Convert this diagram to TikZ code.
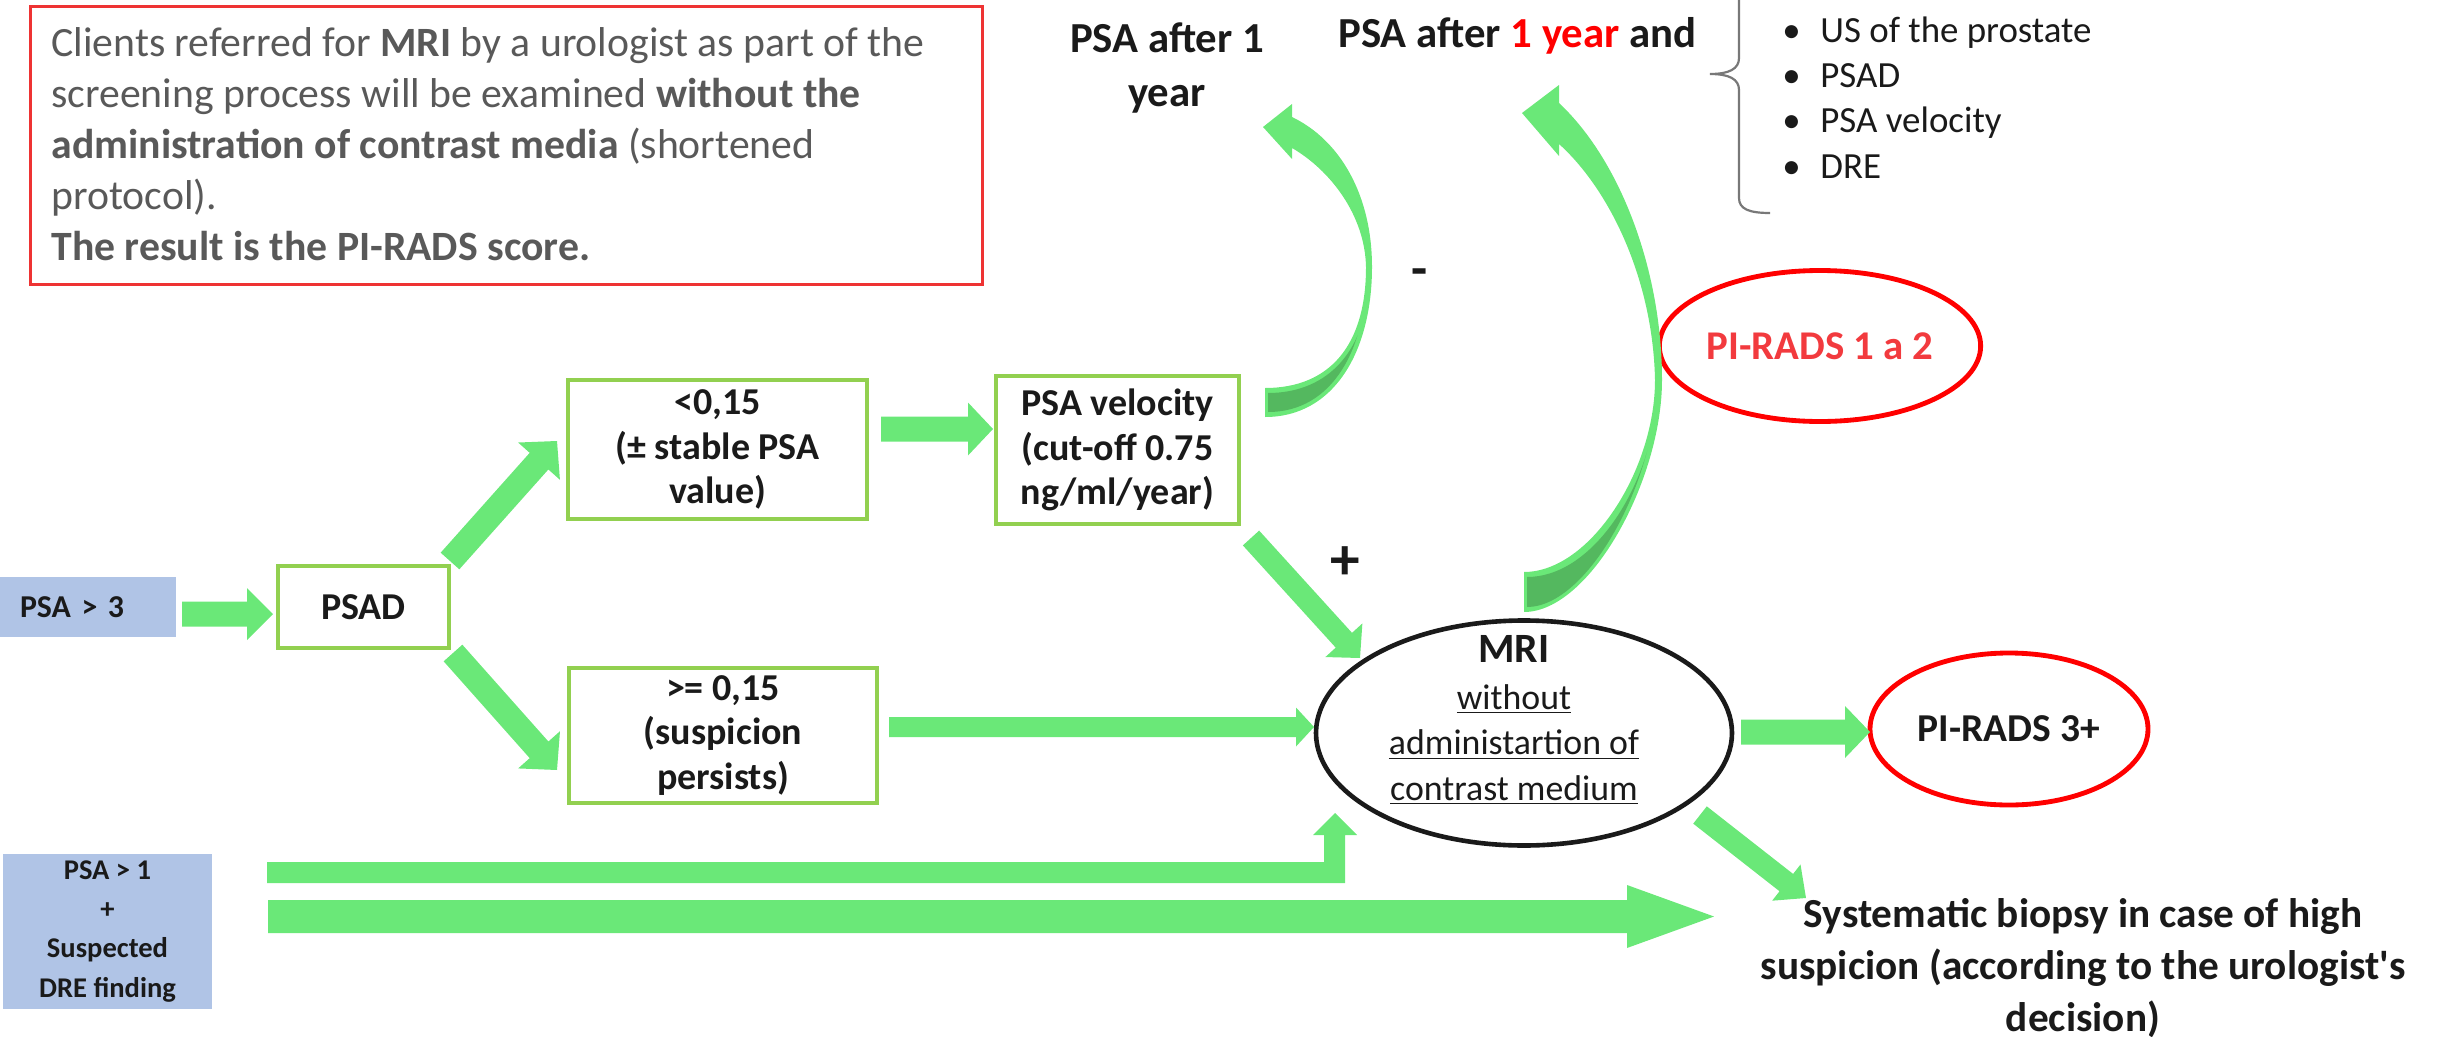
\documentclass[tikz,border=0pt]{standalone}
\usepackage{fontspec}
\setmainfont{Carlito}
\usetikzlibrary{calc,shapes.geometric}

\definecolor{arrowgreen}{RGB}{106,232,120}
\definecolor{arrowdark}{RGB}{84,184,95}
\definecolor{boxgreen}{RGB}{146,208,80}
\definecolor{boxblue}{RGB}{176,196,230}
\definecolor{notered}{RGB}{238,51,51}
\definecolor{notegray}{RGB}{89,89,89}
\definecolor{inkblack}{RGB}{26,26,26}
\definecolor{piradsred}{RGB}{242,58,62}
\definecolor{bracegray}{RGB}{120,120,120}

% one drawing unit
\newcommand\upx{0.016cm}
\newcommand\fsz[2]{\fontsize{#1}{#2}\selectfont}

% straight block arrow: start, tip, shaft half width, head half width, head length
\newcommand\blockarrow[5]{%
  \coordinate (ba-neck) at ($(#2)!#5!(#1)$);
  \fill[arrowgreen] ($(#1)!#3!90:(#2)$) -- ($(ba-neck)!#3!90:(#2)$)
    -- ($(ba-neck)!#4!90:(#2)$) -- (#2) -- ($(ba-neck)!#4!-90:(#2)$)
    -- ($(ba-neck)!#3!-90:(#2)$) -- ($(#1)!#3!-90:(#2)$) -- cycle;
}

\tikzset{
  stagebox/.style={draw=boxgreen, line width=1.8pt, fill=white, text=inkblack,
    align=center, inner sep=0pt, font=\bfseries\fsz{17.3}{20.4}},
  inbox/.style={fill=boxblue, text=inkblack, inner sep=0pt},
  resultoval/.style={ellipse, draw=red, line width=2.2pt, inner sep=0pt},
  plaintext/.style={inner sep=0pt, text=inkblack},
}

\begin{document}
\begin{tikzpicture}[x=0.016cm,y=-0.016cm]
\useasboundingbox (0,0) rectangle (2453,1037);

% ---- explanatory note ----
\node[draw=notered, line width=1.4pt, minimum width=952*\upx, minimum height=278*\upx,
      inner sep=0pt, anchor=north west] (note) at (29,5) {};
\node[plaintext, text=notegray, font=\fsz{19}{23.2}, align=left, anchor=north west]
  (notetext) at (51,27)
  {Clients referred for \textbf{MRI} by a urologist as part of the\\
   screening process will be examined \textbf{without the}\\
   \textbf{administration of contrast media} (shortened\\
   protocol).\\
   \textbf{The result is the PI-RADS score.}};

% ---- follow-up labels ----
\node[plaintext, font=\bfseries\fsz{19.5}{24.5}, align=center, anchor=base] (after1) at (1167,106)
  {PSA after 1\\year};
\node[plaintext, font=\bfseries\fsz{19.5}{22}, anchor=base west] (after1and) at (1338,47)
  {PSA after \textcolor{red}{1 year} and};

% brace and list of examinations
\draw[bracegray, line width=1pt] (1770,-68) .. controls (1749,-68) and (1739,-62) .. (1739,-48)
  -- (1739,58) .. controls (1739,69) and (1729,74) .. (1710,74)
  .. controls (1729,74) and (1739,79) .. (1739,90) -- (1739,198)
  .. controls (1739,209) and (1749,213) .. (1770,213);
\node[plaintext, font=\fsz{16.8}{20.5}, align=left, anchor=base west] (checks) at (1782,178)
  {\makebox[0.608cm][l]{•}US of the prostate\\
   \makebox[0.608cm][l]{•}PSAD\\
   \makebox[0.608cm][l]{•}PSA velocity\\
   \makebox[0.608cm][l]{•}DRE};

% ---- entry boxes ----
\node[inbox, minimum width=176*\upx, minimum height=60*\upx, text width=2.176cm,
      inner xsep=0.32cm, align=left, font=\bfseries\fsz{14.5}{17}] (psa3) at (88,607) {PSA > 3};
\node[inbox, minimum width=209*\upx, minimum height=155*\upx, align=center,
      font=\bfseries\fsz{13}{17.8}] (psa1) at (107.5,931.5)
  {PSA > 1\\+\\Suspected\\DRE finding};

% ---- decision boxes ----
\node[stagebox, minimum width=171*\upx, minimum height=82*\upx] (psad) at (363.5,607) {PSAD};
\node[stagebox, minimum width=299*\upx, minimum height=139*\upx] (low) at (717.5,449.5)
  {<0,15\\(± stable PSA\\value)};
\node[stagebox, minimum width=308*\upx, minimum height=135*\upx] (high) at (723,735.5)
  {>= 0,15\\(suspicion\\persists)};
\node[stagebox, minimum width=243*\upx, minimum height=148*\upx] (vel) at (1117.5,450)
  {PSA velocity\\(cut-off 0.75\\ng/ml/year)};

% ---- MRI and results ----
\node[ellipse, draw=inkblack, line width=2.1pt, fill=white, minimum width=416*\upx,
      minimum height=225*\upx, inner sep=0pt] (mri) at (1524,733) {};
\node[plaintext, align=center, font=\fsz{16.3}{20.6}, anchor=base] (mritext) at (1514,800)
  {{\bfseries\fsz{19}{22}MRI}\\[1pt]\underline{without}\\\underline{administartion of}\\\underline{contrast medium}};
\node[resultoval, minimum width=278*\upx, minimum height=152*\upx,
      font=\bfseries\fsz{18}{22}, text=inkblack] (pirads3) at (2009,729) {PI-RADS 3+};
\node[resultoval, minimum width=310*\upx, minimum height=151*\upx,
      font=\bfseries\fsz{18.6}{22}, text=piradsred] (pirads12) at (1820,346) {PI-RADS 1 a 2};
\node[plaintext, font=\bfseries\fsz{18.8}{23.5}, align=center, anchor=base] (biopsy) at (2083,1031)
  {Systematic biopsy in case of high\\suspicion (according to the urologist\textquotesingle s\\decision)};

% signs on the velocity branches
\node[plaintext, font=\bfseries\fsz{27}{30}] (plus) at (1345,563) {+};
\node[plaintext, font=\bfseries\fsz{24}{28}, anchor=base] (minus) at (1420,286) {-};

% ---- straight block arrows ----
\coordinate (a1s) at (182,614);   \coordinate (a1e) at (273,614);
\coordinate (a2s) at (450,561);   \coordinate (a2e) at (557,441);
\coordinate (a3s) at (453,653);   \coordinate (a3e) at (557,770);
\coordinate (a4s) at (881,429);   \coordinate (a4e) at (993,429);
\coordinate (a5s) at (1251,538);  \coordinate (a5e) at (1360,658);
\coordinate (a6s) at (889,727);   \coordinate (a6e) at (1314,727);
\coordinate (a7s) at (1741,732);  \coordinate (a7e) at (1870,732);
\coordinate (a8s) at (1700,815);  \coordinate (a8e) at (1806,898);
\coordinate (a10s) at (268,916.5); \coordinate (a10e) at (1714,916.5);
\blockarrow{a1s}{a1e}{12.5*\upx}{26*\upx}{26*\upx}
\blockarrow{a2s}{a2e}{12.5*\upx}{28*\upx}{27*\upx}
\blockarrow{a3s}{a3e}{12.5*\upx}{28*\upx}{27*\upx}
\blockarrow{a4s}{a4e}{12.5*\upx}{26.5*\upx}{25*\upx}
\blockarrow{a5s}{a5e}{11*\upx}{25*\upx}{24*\upx}
\blockarrow{a6s}{a6e}{10*\upx}{19.5*\upx}{18*\upx}
\blockarrow{a7s}{a7e}{12.5*\upx}{26*\upx}{25*\upx}
\blockarrow{a8s}{a8e}{11*\upx}{23*\upx}{25*\upx}
\blockarrow{a10s}{a10e}{16.5*\upx}{31.5*\upx}{87*\upx}

% elbow arrow from the DRE branch up into the MRI
\fill[arrowgreen] (267,862) -- (1324,862) -- (1324,835) -- (1313,835) -- (1335,813)
  -- (1357,835) -- (1345,835) -- (1345,883) -- (267,883) -- cycle;

% ---- curved arrows back to PSA follow-up ----
% from PSA velocity (negative)
\fill[arrowgreen] (1265,417) .. controls (1335,417) and (1372,350) .. (1372,267)
  .. controls (1372,195) and (1340,140) .. (1292,117) -- (1292,104) -- (1263,127)
  -- (1292,159) -- (1292,148) .. controls (1330,170) and (1365,215) .. (1366,267)
  .. controls (1366,345) and (1330,388) .. (1265,388) -- cycle;
\begin{scope}
  \clip (1268,412) .. controls (1333,412) and (1367,348) .. (1367,267) -- (1200,267) -- (1200,412) -- cycle;
  \fill[arrowdark] (1268,393) .. controls (1325,393) and (1360,355) .. (1367,300)
    -- (1450,300) -- (1450,450) -- (1268,450) -- cycle;
\end{scope}
% from MRI (PI-RADS 1 a 2)
\fill[arrowgreen] (1524,612) .. controls (1590,612) and (1662,480) .. (1662,380)
  .. controls (1662,270) and (1620,160) .. (1559,103) -- (1559,85) -- (1522,113)
  -- (1559,156) -- (1559,144) .. controls (1610,190) and (1653,280) .. (1655,380)
  .. controls (1655,470) and (1590,572) .. (1524,572) -- cycle;
\begin{scope}
  \clip (1527,607) .. controls (1588,607) and (1657,480) .. (1657,380) -- (1400,380) -- (1400,607) -- cycle;
  \fill[arrowdark] (1527,577) .. controls (1590,577) and (1645,495) .. (1656,410)
    -- (1750,410) -- (1750,700) -- (1527,700) -- cycle;
\end{scope}

\end{tikzpicture}
\end{document}
